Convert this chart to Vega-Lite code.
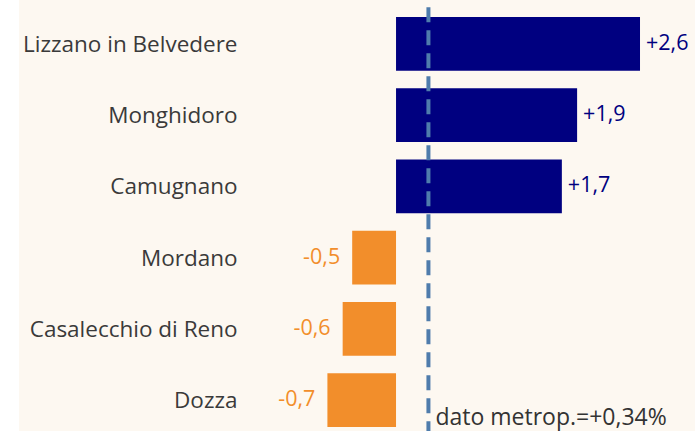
{
  "$schema": "https://vega.github.io/schema/vega-lite/v6.json",
  "width": 676,
  "height": 431,
  "autosize": "none",
  "padding": {"left": 19, "top": 0, "right": 0, "bottom": 0},
  "background": "#ffffff",
  "config": {"view": {"fill": "#fdf8f1", "stroke": null}, "font": "Open Sans"},
  "data": {"values": [
    {"comune": "Lizzano in Belvedere", "var": 2.56, "label": "+2,6"},
    {"comune": "Monghidoro", "var": 1.90, "label": "+1,9"},
    {"comune": "Camugnano", "var": 1.74, "label": "+1,7"},
    {"comune": "Mordano", "var": -0.46, "label": "-0,5"},
    {"comune": "Casalecchio di Reno", "var": -0.56, "label": "-0,6"},
    {"comune": "Dozza", "var": -0.72, "label": "-0,7"}
  ]},
  "encoding": {
    "y": {"field": "comune", "type": "nominal", "sort": null,
      "scale": {"range": [17, 427], "paddingInner": 0.246, "paddingOuter": 0},
      "axis": {"title": null, "domain": false, "ticks": false, "tickSize": 0, "labelPadding": 0, "offset": -218, "labelFontSize": 22.5, "labelColor": "#3a3a3a", "labelFont": "Open Sans", "labelLimit": 400, "labelOffset": 1, "grid": false}},
    "x": {"field": "var", "type": "quantitative", "scale": {"domain": [-3.956, 3.137], "nice": false}, "axis": null}
  },
  "layer": [
    {"mark": {"type": "bar"},
     "encoding": {
       "x2": {"datum": 0},
       "color": {"condition": {"test": "datum['var'] > 0", "value": "#000080"}, "value": "#f28e2b"}
     }},
    {"transform": [{"filter": "datum['var'] > 0"}],
     "mark": {"type": "text", "align": "left", "baseline": "middle", "dx": 6, "fontSize": 21.5, "color": "#000080"},
     "encoding": {"text": {"field": "label"}}},
    {"transform": [{"filter": "datum['var'] < 0"}],
     "mark": {"type": "text", "align": "right", "baseline": "middle", "dx": -12, "fontSize": 21.5, "color": "#f28e2b"},
     "encoding": {"text": {"field": "label"}}},
    {"data": {"values": [{"metro": 0.34, "testo": "dato metrop.=+0,34%"}]},
     "mark": {"type": "rule", "strokeDash": [15, 8], "strokeDashOffset": 15.7, "strokeWidth": 4, "color": "#4f7cac"},
     "encoding": {"x": {"field": "metro", "type": "quantitative"}, "y": null}},
    {"data": {"values": [{"metro": 0.34, "testo": "dato metrop.=+0,34%"}]},
     "mark": {"type": "text", "align": "left", "baseline": "alphabetic", "dx": 7, "dy": -6, "fontSize": 23, "color": "#333333"},
     "encoding": {"x": {"field": "metro", "type": "quantitative"}, "y": {"value": "height"}, "text": {"field": "testo"}}}
  ]
}
